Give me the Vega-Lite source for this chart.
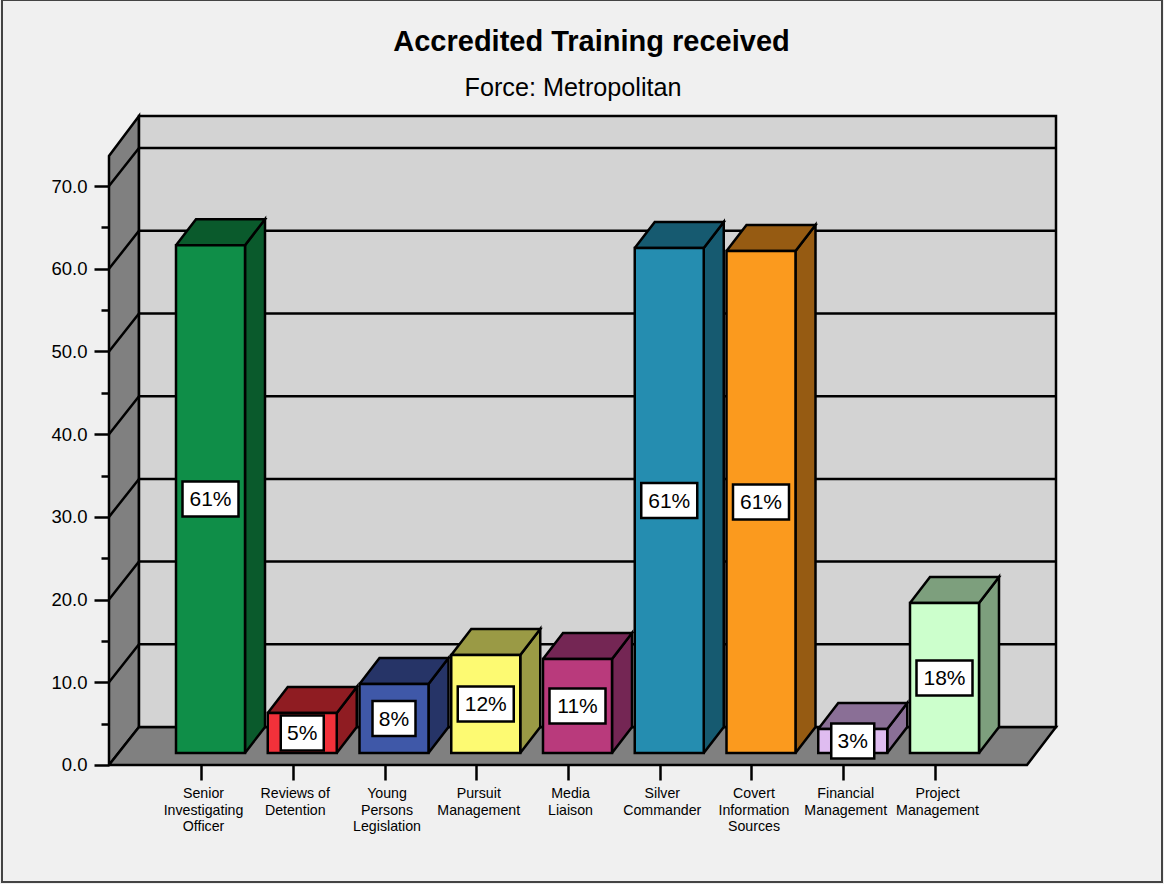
{
"$schema":"https://vega.github.io/schema/vega-lite/v6.json",
"width":1160,"height":882,
"autosize":{"type":"none"},
"padding":{"left":2,"top":0,"right":2,"bottom":2},
"background":"#f0f0f0",
"view":{"stroke":"#444444","strokeWidth":2,"fill":"#f0f0f0"},
"config":{"scale":{"continuousPadding":0}},
"title":{"text":"Accredited Training received","font":"Liberation Sans","fontSize":29,"fontWeight":"bold","color":"#000000","anchor":"middle","frame":"group","dx":9.5,"offset":-57},
"datasets":{
"bars":[
{"training":"Senior Investigating Officer","slot":1,"value":61.4,"mid":30.7,"label":"61%"},
{"training":"Reviews of Detention","slot":2,"value":4.84,"mid":2.42,"label":"5%"},
{"training":"Young Persons Legislation","slot":3,"value":8.34,"mid":4.17,"label":"8%"},
{"training":"Pursuit Management","slot":4,"value":11.85,"mid":5.925,"label":"12%"},
{"training":"Media Liaison","slot":5,"value":11.37,"mid":5.685,"label":"11%"},
{"training":"Silver Commander","slot":6,"value":61.06,"mid":30.53,"label":"61%"},
{"training":"Covert Information Sources","slot":7,"value":60.7,"mid":30.35,"label":"61%"},
{"training":"Financial Management","slot":8,"value":2.9,"mid":1.45,"label":"3%"},
{"training":"Project Management","slot":9,"value":18.14,"mid":9.07,"label":"18%"}
],
"walls":[
{"wall":"left","n":0,"slot":-0.1063,"level":0},{"wall":"left","n":1,"slot":0.2207,"level":4.595},{"wall":"left","n":2,"slot":0.2207,"level":78.48},{"wall":"left","n":3,"slot":-0.1063,"level":73.64},{"wall":"left","n":4,"slot":-0.1063,"level":0},
{"wall":"floor","n":0,"slot":-0.1063,"level":0},{"wall":"floor","n":1,"slot":0.2207,"level":4.595},{"wall":"floor","n":2,"slot":10.2153,"level":4.595},{"wall":"floor","n":3,"slot":9.8992,"level":0},{"wall":"floor","n":4,"slot":-0.1063,"level":0},
{"wall":"back","n":0,"slot":0.2207,"level":4.595},{"wall":"back","n":1,"slot":10.2153,"level":4.595},{"wall":"back","n":2,"slot":10.2153,"level":78.48},{"wall":"back","n":3,"slot":0.2207,"level":78.48},{"wall":"back","n":4,"slot":0.2207,"level":4.595}
],
"grid":[
{"k":10,"n":0,"slot":-0.1063,"level":10},{"k":10,"n":1,"slot":0.2207,"level":14.595},{"k":10,"n":2,"slot":10.2153,"level":14.595},
{"k":20,"n":0,"slot":-0.1063,"level":20},{"k":20,"n":1,"slot":0.2207,"level":24.595},{"k":20,"n":2,"slot":10.2153,"level":24.595},
{"k":30,"n":0,"slot":-0.1063,"level":30},{"k":30,"n":1,"slot":0.2207,"level":34.595},{"k":30,"n":2,"slot":10.2153,"level":34.595},
{"k":40,"n":0,"slot":-0.1063,"level":40},{"k":40,"n":1,"slot":0.2207,"level":44.595},{"k":40,"n":2,"slot":10.2153,"level":44.595},
{"k":50,"n":0,"slot":-0.1063,"level":50},{"k":50,"n":1,"slot":0.2207,"level":54.595},{"k":50,"n":2,"slot":10.2153,"level":54.595},
{"k":60,"n":0,"slot":-0.1063,"level":60},{"k":60,"n":1,"slot":0.2207,"level":64.595},{"k":60,"n":2,"slot":10.2153,"level":64.595},
{"k":70,"n":0,"slot":-0.1063,"level":70},{"k":70,"n":1,"slot":0.2207,"level":74.595},{"k":70,"n":2,"slot":10.2153,"level":74.595}
],
"prism":[
{"training":"Senior Investigating Officer","face":"side","n":0,"slot":1.376,"level":1.451},{"training":"Senior Investigating Officer","face":"side","n":1,"slot":1.594,"level":4.595},{"training":"Senior Investigating Officer","face":"side","n":2,"slot":1.594,"level":65.995},{"training":"Senior Investigating Officer","face":"side","n":3,"slot":1.376,"level":62.851},{"training":"Senior Investigating Officer","face":"side","n":4,"slot":1.376,"level":1.451},
{"training":"Senior Investigating Officer","face":"top","n":0,"slot":0.624,"level":62.851},{"training":"Senior Investigating Officer","face":"top","n":1,"slot":1.376,"level":62.851},{"training":"Senior Investigating Officer","face":"top","n":2,"slot":1.594,"level":65.995},{"training":"Senior Investigating Officer","face":"top","n":3,"slot":0.842,"level":65.995},{"training":"Senior Investigating Officer","face":"top","n":4,"slot":0.624,"level":62.851},
{"training":"Reviews of Detention","face":"side","n":0,"slot":2.376,"level":1.451},{"training":"Reviews of Detention","face":"side","n":1,"slot":2.594,"level":4.595},{"training":"Reviews of Detention","face":"side","n":2,"slot":2.594,"level":9.435},{"training":"Reviews of Detention","face":"side","n":3,"slot":2.376,"level":6.291},{"training":"Reviews of Detention","face":"side","n":4,"slot":2.376,"level":1.451},
{"training":"Reviews of Detention","face":"top","n":0,"slot":1.624,"level":6.291},{"training":"Reviews of Detention","face":"top","n":1,"slot":2.376,"level":6.291},{"training":"Reviews of Detention","face":"top","n":2,"slot":2.594,"level":9.435},{"training":"Reviews of Detention","face":"top","n":3,"slot":1.842,"level":9.435},{"training":"Reviews of Detention","face":"top","n":4,"slot":1.624,"level":6.291},
{"training":"Young Persons Legislation","face":"side","n":0,"slot":3.376,"level":1.451},{"training":"Young Persons Legislation","face":"side","n":1,"slot":3.594,"level":4.595},{"training":"Young Persons Legislation","face":"side","n":2,"slot":3.594,"level":12.935},{"training":"Young Persons Legislation","face":"side","n":3,"slot":3.376,"level":9.791},{"training":"Young Persons Legislation","face":"side","n":4,"slot":3.376,"level":1.451},
{"training":"Young Persons Legislation","face":"top","n":0,"slot":2.624,"level":9.791},{"training":"Young Persons Legislation","face":"top","n":1,"slot":3.376,"level":9.791},{"training":"Young Persons Legislation","face":"top","n":2,"slot":3.594,"level":12.935},{"training":"Young Persons Legislation","face":"top","n":3,"slot":2.842,"level":12.935},{"training":"Young Persons Legislation","face":"top","n":4,"slot":2.624,"level":9.791},
{"training":"Pursuit Management","face":"side","n":0,"slot":4.376,"level":1.451},{"training":"Pursuit Management","face":"side","n":1,"slot":4.594,"level":4.595},{"training":"Pursuit Management","face":"side","n":2,"slot":4.594,"level":16.445},{"training":"Pursuit Management","face":"side","n":3,"slot":4.376,"level":13.301},{"training":"Pursuit Management","face":"side","n":4,"slot":4.376,"level":1.451},
{"training":"Pursuit Management","face":"top","n":0,"slot":3.624,"level":13.301},{"training":"Pursuit Management","face":"top","n":1,"slot":4.376,"level":13.301},{"training":"Pursuit Management","face":"top","n":2,"slot":4.594,"level":16.445},{"training":"Pursuit Management","face":"top","n":3,"slot":3.842,"level":16.445},{"training":"Pursuit Management","face":"top","n":4,"slot":3.624,"level":13.301},
{"training":"Media Liaison","face":"side","n":0,"slot":5.376,"level":1.451},{"training":"Media Liaison","face":"side","n":1,"slot":5.594,"level":4.595},{"training":"Media Liaison","face":"side","n":2,"slot":5.594,"level":15.965},{"training":"Media Liaison","face":"side","n":3,"slot":5.376,"level":12.821},{"training":"Media Liaison","face":"side","n":4,"slot":5.376,"level":1.451},
{"training":"Media Liaison","face":"top","n":0,"slot":4.624,"level":12.821},{"training":"Media Liaison","face":"top","n":1,"slot":5.376,"level":12.821},{"training":"Media Liaison","face":"top","n":2,"slot":5.594,"level":15.965},{"training":"Media Liaison","face":"top","n":3,"slot":4.842,"level":15.965},{"training":"Media Liaison","face":"top","n":4,"slot":4.624,"level":12.821},
{"training":"Silver Commander","face":"side","n":0,"slot":6.376,"level":1.451},{"training":"Silver Commander","face":"side","n":1,"slot":6.594,"level":4.595},{"training":"Silver Commander","face":"side","n":2,"slot":6.594,"level":65.655},{"training":"Silver Commander","face":"side","n":3,"slot":6.376,"level":62.511},{"training":"Silver Commander","face":"side","n":4,"slot":6.376,"level":1.451},
{"training":"Silver Commander","face":"top","n":0,"slot":5.624,"level":62.511},{"training":"Silver Commander","face":"top","n":1,"slot":6.376,"level":62.511},{"training":"Silver Commander","face":"top","n":2,"slot":6.594,"level":65.655},{"training":"Silver Commander","face":"top","n":3,"slot":5.842,"level":65.655},{"training":"Silver Commander","face":"top","n":4,"slot":5.624,"level":62.511},
{"training":"Covert Information Sources","face":"side","n":0,"slot":7.376,"level":1.451},{"training":"Covert Information Sources","face":"side","n":1,"slot":7.594,"level":4.595},{"training":"Covert Information Sources","face":"side","n":2,"slot":7.594,"level":65.295},{"training":"Covert Information Sources","face":"side","n":3,"slot":7.376,"level":62.151},{"training":"Covert Information Sources","face":"side","n":4,"slot":7.376,"level":1.451},
{"training":"Covert Information Sources","face":"top","n":0,"slot":6.624,"level":62.151},{"training":"Covert Information Sources","face":"top","n":1,"slot":7.376,"level":62.151},{"training":"Covert Information Sources","face":"top","n":2,"slot":7.594,"level":65.295},{"training":"Covert Information Sources","face":"top","n":3,"slot":6.842,"level":65.295},{"training":"Covert Information Sources","face":"top","n":4,"slot":6.624,"level":62.151},
{"training":"Financial Management","face":"side","n":0,"slot":8.376,"level":1.451},{"training":"Financial Management","face":"side","n":1,"slot":8.594,"level":4.595},{"training":"Financial Management","face":"side","n":2,"slot":8.594,"level":7.495},{"training":"Financial Management","face":"side","n":3,"slot":8.376,"level":4.351},{"training":"Financial Management","face":"side","n":4,"slot":8.376,"level":1.451},
{"training":"Financial Management","face":"top","n":0,"slot":7.624,"level":4.351},{"training":"Financial Management","face":"top","n":1,"slot":8.376,"level":4.351},{"training":"Financial Management","face":"top","n":2,"slot":8.594,"level":7.495},{"training":"Financial Management","face":"top","n":3,"slot":7.842,"level":7.495},{"training":"Financial Management","face":"top","n":4,"slot":7.624,"level":4.351},
{"training":"Project Management","face":"side","n":0,"slot":9.376,"level":1.451},{"training":"Project Management","face":"side","n":1,"slot":9.594,"level":4.595},{"training":"Project Management","face":"side","n":2,"slot":9.594,"level":22.735},{"training":"Project Management","face":"side","n":3,"slot":9.376,"level":19.591},{"training":"Project Management","face":"side","n":4,"slot":9.376,"level":1.451},
{"training":"Project Management","face":"top","n":0,"slot":8.624,"level":19.591},{"training":"Project Management","face":"top","n":1,"slot":9.376,"level":19.591},{"training":"Project Management","face":"top","n":2,"slot":9.594,"level":22.735},{"training":"Project Management","face":"top","n":3,"slot":8.842,"level":22.735},{"training":"Project Management","face":"top","n":4,"slot":8.624,"level":19.591}
]
},
"encoding":{
 "x":{"type":"quantitative","title":null,
   "scale":{"domain":[-1.2725,11.3706],"nice":false,"zero":false,"padding":0},
   "axis":{"orient":"bottom","offset":-117,"values":[1,2,3,4,5,6,7,8,9],"domain":false,"grid":false,"tickSize":15,"tickColor":"#000000","tickWidth":2.5,"tickOffset":-9.5,"labelOffset":2,"labelPadding":6.5,"labelFont":"Liberation Sans","labelFontSize":14.2,"labelColor":"#000000","labelLineHeight":16.5,"labelBaseline":"top","labelFlush":false,"labelOverlap":false,
    "labelExpr":"split(['Senior|Investigating|Officer','Reviews of|Detention','Young|Persons|Legislation','Pursuit|Management','Media|Liaison','Silver|Commander','Covert|Information|Sources','Financial|Management','Project|Management'][datum.value-1],'|')"}},
 "y":{"type":"quantitative","title":null,
   "scale":{"domain":[-14.148,92.503],"nice":false,"zero":false,"padding":0},
   "axis":{"orient":"left","offset":-107,"values":[0,5,10,15,20,25,30,35,40,45,50,55,60,65,70],"domain":false,"grid":false,"tickColor":"#000000","tickWidth":2.5,
    "tickSize":{"condition":{"test":"datum.value%10==0","value":15},"value":8},
    "labelPadding":7,"labelFont":"Liberation Sans","labelFontSize":18.5,"labelColor":"#000000",
    "labelExpr":"datum.value%10==0?format(datum.value,'.1f'):''"}}
},
"layer":[
{"data":{"name":"walls"},"transform":[{"filter":"datum.wall!='back'"}],
 "mark":{"type":"line","fill":"#808080","stroke":"#000000","strokeWidth":2.5},
 "encoding":{"x":{"field":"slot"},"y":{"field":"level"},"detail":{"field":"wall"},"order":{"field":"n"}}},
{"data":{"name":"walls"},"transform":[{"filter":"datum.wall=='back'"}],
 "mark":{"type":"line","fill":"#d3d3d3","stroke":"#000000","strokeWidth":2.5},
 "encoding":{"x":{"field":"slot"},"y":{"field":"level"},"order":{"field":"n"}}},
{"data":{"name":"grid"},
 "mark":{"type":"line","stroke":"#000000","strokeWidth":2.5},
 "encoding":{"x":{"field":"slot"},"y":{"field":"level"},"detail":{"field":"k"},"order":{"field":"n"}}},
{"data":{"name":"prism"},
 "mark":{"type":"line","stroke":"#000000","strokeWidth":2.5},
 "encoding":{"x":{"field":"slot"},"y":{"field":"level"},
  "fill":{"field":"training","type":"nominal","legend":null,
   "scale":{"domain":["Senior Investigating Officer","Reviews of Detention","Young Persons Legislation","Pursuit Management","Media Liaison","Silver Commander","Covert Information Sources","Financial Management","Project Management"],
    "range":["#0a5a2c","#8f1c22","#263467","#9a9a45","#742654","#165a70","#965b12","#8a6f96","#7d9f7d"]}},
  "detail":{"field":"face"},"order":{"field":"n"}}},
{"data":{"name":"bars"},
 "mark":{"type":"bar","orient":"vertical","width":69,"stroke":"#000000","strokeWidth":2.5,"yOffset":-12,"y2Offset":-12},
 "encoding":{"x":{"field":"slot"},"y":{"field":"value","stack":null},"y2":{"datum":0},
  "color":{"field":"training","type":"nominal","legend":null,
   "scale":{"domain":["Senior Investigating Officer","Reviews of Detention","Young Persons Legislation","Pursuit Management","Media Liaison","Silver Commander","Covert Information Sources","Financial Management","Project Management"],
    "range":["#0f8e48","#f2313a","#3f58a8","#fdfa72","#b93a7c","#258db0","#fb9a1e","#dfbcf0","#ccffcc"]}}}},
{"data":{"name":"bars"},"transform":[{"filter":"datum.value>=10"}],
 "mark":{"type":"rect","width":56,"height":35,"fill":"#ffffff","stroke":"#000000","strokeWidth":2.5,"yOffset":-12},
 "encoding":{"x":{"field":"slot"},"y":{"field":"mid"}}},
{"data":{"name":"bars"},"transform":[{"filter":"datum.value<10"}],
 "mark":{"type":"rect","width":43,"height":35,"fill":"#ffffff","stroke":"#000000","strokeWidth":2.5,"yOffset":-12},
 "encoding":{"x":{"field":"slot"},"y":{"field":"mid"}}},
{"data":{"name":"bars"},
 "mark":{"type":"text","font":"Liberation Sans","fontSize":21,"color":"#000000","baseline":"middle","align":"center","yOffset":-11},
 "encoding":{"x":{"field":"slot"},"y":{"field":"mid"},"text":{"field":"label","type":"nominal"}}},
{"data":{"values":[{"subtitle":"Force: Metropolitan"}]},
 "mark":{"type":"text","font":"Liberation Sans","fontSize":25.2,"color":"#000000","baseline":"middle","align":"center"},
 "encoding":{"x":{"datum":4.951},"y":{"datum":81.86},"text":{"field":"subtitle","type":"nominal"}}}
]
}
